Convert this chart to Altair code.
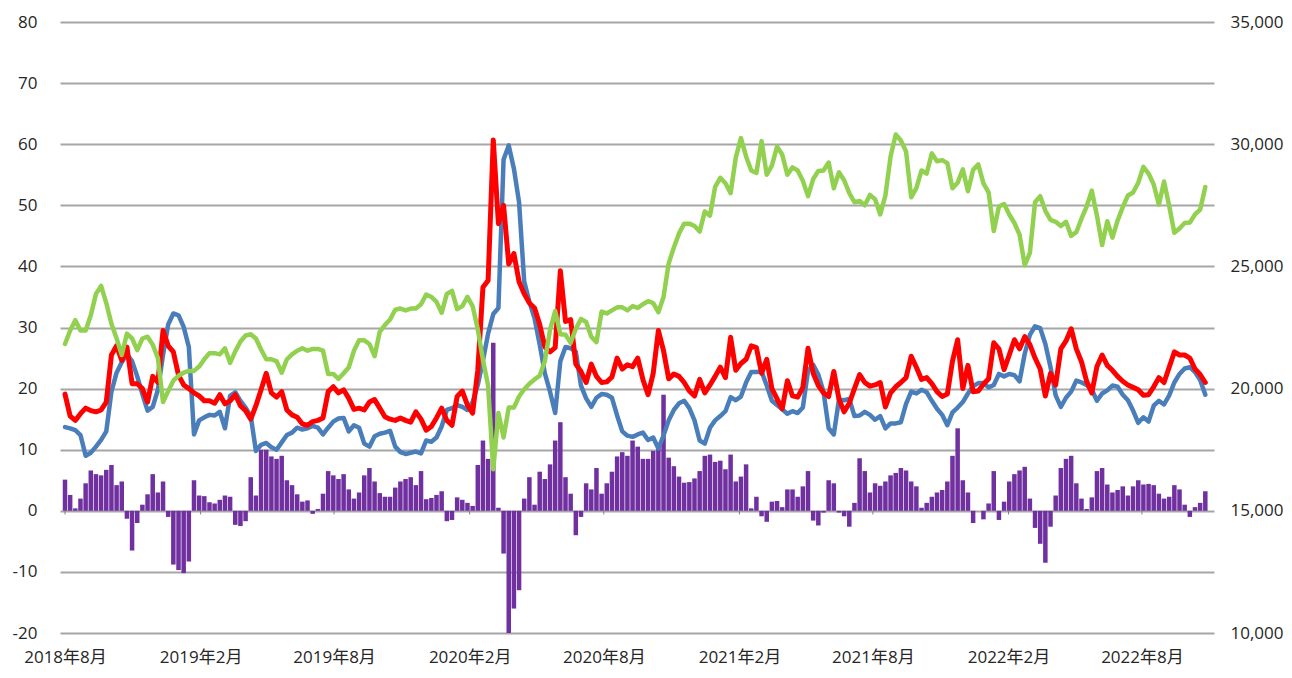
import altair as alt
import pandas as pd

# weekly observation dates (one every 7 days from 2018-08-01)
start = pd.Timestamp("2018-08-01")
n_weeks = 222
dates = [(start + pd.Timedelta(days=7 * i)).strftime("%Y-%m-%d") for i in range(n_weeks)]

# blue series (left axis)
blue = [
    13.7, 13.5, 13.2, 12.4, 9.0, 9.5, 10.5, 11.6, 13.0, 19.5,
    22.6, 24.3, 25.6, 24.5, 22.0, 19.1, 16.4, 17.0, 19.8, 25.5,
    30.5, 32.3, 32.0, 30.1, 26.8, 12.5, 14.8, 15.3, 15.7, 15.6,
    16.2, 13.5, 18.8, 19.4, 18.0, 16.9, 15.5, 9.8, 10.8, 11.1,
    10.4, 10.0, 11.2, 12.4, 12.8, 13.6, 13.3, 13.5, 13.9, 13.6,
    12.5, 13.6, 14.6, 15.1, 15.2, 13.0, 14.0, 13.6, 11.0, 10.5,
    12.2, 12.6, 12.8, 13.1, 10.5, 9.6, 9.3, 9.5, 9.7, 9.4,
    11.5, 11.3, 12.0, 13.8, 16.5, 16.8, 17.3, 17.0, 16.5, 17.8,
    20.6, 24.6, 29.0, 32.2, 33.2, 57.5, 59.8, 56.0, 50.5, 37.5,
    34.2, 31.5, 27.2, 22.5, 19.5, 16.0, 24.5, 26.8, 26.6, 26.0,
    20.5, 18.4, 17.0, 18.5, 19.1, 19.0, 18.5, 15.6, 13.0, 12.3,
    12.1, 12.5, 12.8, 11.6, 12.0, 10.2, 12.3, 14.8, 16.5, 17.6,
    18.0, 16.8, 14.8, 11.5, 11.0, 13.6, 14.8, 15.5, 16.3, 18.6,
    18.1, 18.7, 21.0, 22.7, 22.7, 22.8, 20.5, 18.0, 17.3, 16.6,
    15.9, 16.3, 16.0, 16.9, 22.9, 23.9, 22.3, 19.5, 13.5, 12.5,
    18.2, 18.1, 18.3, 15.5, 15.6, 16.2, 15.7, 14.9, 15.5, 13.5,
    14.3, 14.3, 14.5, 17.5, 19.5, 19.2, 19.8, 19.4, 18.0, 16.7,
    15.7, 14.0, 16.1, 16.9, 17.8, 19.2, 20.4, 20.9, 20.9, 20.2,
    20.6, 22.4, 22.0, 22.4, 22.2, 21.2, 25.7, 28.8, 30.2, 29.9,
    27.3, 23.5, 18.9, 17.0, 18.5, 19.5, 21.3, 21.0, 20.6, 19.8,
    18.0, 19.2, 19.7, 20.5, 20.3, 19.0, 18.1, 16.4, 14.4, 15.3,
    14.6, 17.2, 18.0, 17.4, 18.9, 21.0, 22.4, 23.3, 23.5, 22.7,
    21.4, 19.0,
]

# red series (left axis)
red = [
    19.1, 15.5, 14.8, 15.9, 16.8, 16.4, 16.2, 16.5, 17.8, 25.5,
    27.0, 24.6, 26.8, 20.8, 20.8, 20.0, 17.8, 22.0, 21.0, 29.5,
    27.0, 26.0, 22.2, 20.6, 20.0, 19.3, 18.8, 18.0, 18.0, 17.6,
    19.0, 17.5, 18.0, 19.0, 17.2, 16.4, 15.0, 17.2, 19.8, 22.5,
    19.3, 18.6, 19.5, 16.5, 15.7, 15.3, 14.2, 14.0, 14.6, 14.8,
    15.2, 19.5, 20.3, 19.3, 19.8, 18.4, 16.6, 16.8, 16.5, 17.8,
    18.2, 16.8, 15.4, 15.0, 14.8, 15.2, 14.8, 14.5, 16.2, 15.0,
    13.2, 13.8, 15.2, 16.8, 14.8, 14.0, 18.7, 19.6, 17.3, 16.0,
    23.0, 36.6, 37.7, 60.7, 47.0, 50.0, 40.4, 42.1, 37.5, 35.5,
    34.0, 33.2, 30.5, 26.8, 26.0, 26.7, 39.3, 31.0, 31.3, 24.0,
    22.8, 21.0, 24.0, 22.0, 21.0, 21.1, 21.9, 25.0, 23.2, 23.9,
    23.6, 25.0, 21.5, 19.0, 22.5, 29.5, 26.2, 21.6, 22.4, 22.0,
    21.0, 19.6, 18.8, 21.5, 19.3, 20.6, 22.0, 23.5, 21.8, 28.4,
    23.0, 24.1, 24.8, 27.0, 26.7, 22.5, 24.8, 20.0, 18.3, 16.7,
    21.3, 18.8, 18.6, 20.2, 26.6, 22.5, 20.5, 19.3, 18.7, 22.8,
    18.3, 16.2, 17.6, 20.0, 22.3, 21.0, 20.4, 20.6, 21.0, 17.0,
    19.3, 20.3, 21.0, 21.8, 25.3, 23.5, 21.5, 21.8, 20.8, 19.5,
    18.7, 19.1, 24.5, 28.0, 20.0, 23.8, 19.5, 19.6, 20.7, 21.6,
    27.5, 26.5, 23.1, 25.5, 28.0, 26.5, 28.5, 27.2, 25.0, 23.2,
    18.8, 22.5, 20.6, 26.5, 27.8, 29.8, 26.5, 24.4, 21.2, 19.3,
    23.6, 25.5, 23.8, 23.0, 22.0, 21.2, 20.6, 20.2, 19.8, 18.9,
    19.0, 20.3, 21.8, 21.0, 23.5, 26.0, 25.5, 25.5, 25.0, 23.2,
    22.3, 21.0,
]

# green series (right axis, index level)
nikkei = [
    21825, 22375, 22800, 22375, 22375, 23000, 23875, 24200, 23500, 22650,
    22050, 21375, 22250, 22050, 21575, 22050, 22125, 21800, 21250, 19450,
    19900, 20325, 20525, 20650, 20725, 20725, 20900, 21200, 21450, 21450,
    21400, 21650, 21050, 21525, 21925, 22175, 22225, 22050, 21600, 21200,
    21200, 21125, 20650, 21200, 21400, 21550, 21650, 21550, 21625, 21625,
    21550, 20600, 20600, 20400, 20625, 20875, 21550, 21975, 21975, 21825,
    21325, 22325, 22600, 22825, 23225, 23275, 23200, 23275, 23275, 23450,
    23850, 23750, 23550, 23100, 23875, 24000, 23250, 23375, 23750, 23375,
    22425, 21175, 20125, 16700, 19000, 18000, 19225, 19225, 19675, 19975,
    20200, 20375, 20525, 21125, 22400, 23175, 22225, 22200, 21875, 22450,
    22850, 22725, 22125, 21900, 23150, 23075, 23200, 23325, 23325, 23200,
    23375, 23300, 23450, 23575, 23500, 23125, 23750, 25125, 25775, 26350,
    26750, 26750, 26650, 26425, 27250, 27075, 28250, 28625, 28400, 28000,
    29450, 30250, 29500, 28925, 28825, 30125, 28750, 29125, 29900, 29575,
    28750, 29050, 28925, 28500, 27875, 28575, 28900, 28925, 29250, 28200,
    28850, 28525, 28000, 27625, 27675, 27500, 27925, 27750, 27125, 27900,
    29500, 30400, 30150, 29700, 27825, 28200, 28925, 28800, 29625, 29300,
    29350, 29225, 28200, 28425, 28975, 28075, 28950, 29175, 28400, 28025,
    26450, 27450, 27550, 27125, 26775, 26300, 25050, 25550, 27625, 27875,
    27275, 26900, 26825, 26650, 26825, 26250, 26400, 26950, 27450, 28100,
    27075, 25875, 26850, 26175, 26875, 27425, 27900, 28025, 28425, 29075,
    28800, 28350, 27525, 28475, 27475, 26375, 26550, 26775, 26800, 27125,
    27325, 28250,
]

# purple bars (left axis)
spread = [
    5.1, 2.6, 0.4, 2.0, 4.5, 6.6, 6.0, 5.8, 6.7, 7.5,
    4.2, 4.8, -1.3, -6.5, -2.0, 1.0, 2.7, 6.0, 3.0, 4.8,
    -1.0, -8.8, -9.7, -10.2, -8.3, 5.0, 2.5, 2.4, 1.4, 1.2,
    1.8, 2.5, 2.3, -2.3, -2.5, -1.7, 5.5, 2.5, 10.0, 10.0,
    8.9, 8.5, 9.0, 5.0, 4.2, 2.7, 1.5, 1.7, -0.5, 0.3,
    2.8, 6.5, 5.8, 5.2, 6.0, 3.5, 2.0, 3.0, 5.8, 7.0,
    4.8, 2.9, 2.3, 2.3, 3.8, 4.8, 5.2, 5.5, 4.2, 6.5,
    1.9, 2.1, 2.6, 3.2, -1.7, -1.5, 2.2, 1.8, 1.3, 0.8,
    7.5, 11.5, 8.5, 27.5, 0.5, -7.0, -20.0, -16.0, -13.0, 2.0,
    5.5, 1.0, 6.4, 5.2, 7.6, 11.5, 14.5, 5.5, 2.8, -4.0,
    -1.0, 4.5, 3.5, 7.0, 2.8, 4.5, 6.4, 8.9, 9.6, 9.0,
    11.5, 10.5, 8.5, 8.5, 9.8, 11.0, 19.0, 8.7, 7.3, 5.6,
    4.6, 4.7, 5.3, 6.5, 9.0, 9.2, 8.0, 8.2, 6.8, 9.2,
    4.8, 5.6, 7.6, 0.4, 2.3, -0.9, -1.8, 1.5, 1.6, 0.6,
    3.5, 3.5, 2.3, 4.0, 6.5, -1.6, -2.4, -0.3, 5.0, 4.5,
    -0.3, -0.9, -2.6, 1.3, 8.6, 6.5, 3.0, 4.5, 4.1, 4.8,
    5.8, 6.2, 7.0, 6.6, 4.8, 4.0, 0.5, 1.3, 2.3, 3.0,
    3.4, 4.8, 9.0, 13.5, 5.0, 3.0, -2.0, 0.0, -1.4, 1.2,
    6.5, -1.5, 1.5, 4.8, 6.0, 6.6, 7.2, 2.0, -2.8, -5.4,
    -8.5, -2.6, 2.5, 7.0, 8.5, 9.0, 4.5, 2.0, 0.3, 2.2,
    6.5, 7.0, 4.3, 3.0, 3.4, 4.0, 2.5, 4.0, 5.0, 4.3,
    4.4, 4.2, 2.8, 2.0, 2.3, 4.2, 3.5, 1.0, -1.0, 0.6,
    1.3, 3.2,
]

# axis tick dates (every 6 months)
tick_dates = ["2018-08-01", "2019-02-01", "2019-08-01", "2020-02-01", "2020-08-01",
              "2021-02-01", "2021-08-01", "2022-02-01", "2022-08-01"]
left_ticks = [-20, -10, 0, 10, 20, 30, 40, 50, 60, 70, 80]
right_ticks = [10000, 15000, 20000, 25000, 30000, 35000]

df = pd.DataFrame({"date": dates, "blue": blue, "red": red, "nikkei": nikkei, "spread": spread})
tick_ms = [int(pd.Timestamp(d).value // 10**6) for d in tick_dates]
ticks_df = pd.DataFrame({"date": tick_dates, "top": [0] * len(tick_dates), "bottom": [-0.6] * len(tick_dates)})

FONT = "Open Sans, Noto Sans CJK JP, sans-serif"
LABEL = "#262626"
FS = 17

x_enc = alt.X(
    "date:T",
    scale=alt.Scale(type="utc",
                    domain=[alt.DateTime(year=2018, month=8, date=1, utc=True),
                            alt.DateTime(year=2022, month=10, date=31, utc=True)]),
    axis=alt.Axis(values=tick_ms, labelExpr="utcFormat(datum.value, '%Y年%-m月')",
                  title=None, grid=False, domain=False, ticks=False, labelPadding=16,
                  labelFontSize=FS, labelFont=FONT, labelColor=LABEL, labelOverlap=False),
)

def y_left(field):
    return alt.Y(
        f"{field}:Q",
        scale=alt.Scale(domain=[-20, 80], nice=False, zero=False),
        axis=alt.Axis(values=left_ticks, title=None, grid=True, gridColor="#A6A6A6",
                      gridWidth=1.8, domain=False, ticks=False, labelPadding=23,
                      labelExpr="datum.value < 0 ? '-' + (-datum.value) : '' + datum.value",
                      labelFontSize=FS, labelFont=FONT, labelColor=LABEL),
    )

bars = alt.Chart(df).mark_bar(size=4.5, color="#7030A0").encode(x=x_enc, y=y_left("spread"))
tick_marks = alt.Chart(ticks_df).mark_rule(color="#7F7F7F", strokeWidth=1).encode(
    x=x_enc, y=y_left("top"), y2="bottom:Q")
blue_line = alt.Chart(df).mark_line(color="#4A7EBB", strokeWidth=4.5, strokeJoin="round",
                                    strokeCap="round").encode(x=x_enc, y=y_left("blue"))
red_line = alt.Chart(df).mark_line(color="#FF0000", strokeWidth=5, strokeJoin="round",
                                   strokeCap="round").encode(x=x_enc, y=y_left("red"))

left = alt.layer(bars, tick_marks, blue_line, red_line)

green_line = alt.Chart(df).mark_line(color="#92D050", strokeWidth=4.5, strokeJoin="round",
                                     strokeCap="round").encode(
    x=x_enc,
    y=alt.Y("nikkei:Q",
            scale=alt.Scale(domain=[10000, 35000], nice=False, zero=False),
            axis=alt.Axis(orient="right", values=right_ticks,
                          labelExpr="format(datum.value, ',.0f')", title=None,
                          grid=False, domain=False, ticks=False, labelPadding=16,
                          labelFontSize=FS, labelFont=FONT, labelColor=LABEL)),
)

chart = (
    alt.layer(left, green_line)
    .resolve_scale(y="independent")
    .properties(width=1154, height=611,
                autosize=alt.AutoSizeParams(type="none"),
                padding={"left": 52, "top": 14, "right": 70, "bottom": 36})
    .configure(background="white")
    .configure_view(stroke=None)
)

chart.save("out.html", embed_options={"renderer": "svg", "actions": False})
